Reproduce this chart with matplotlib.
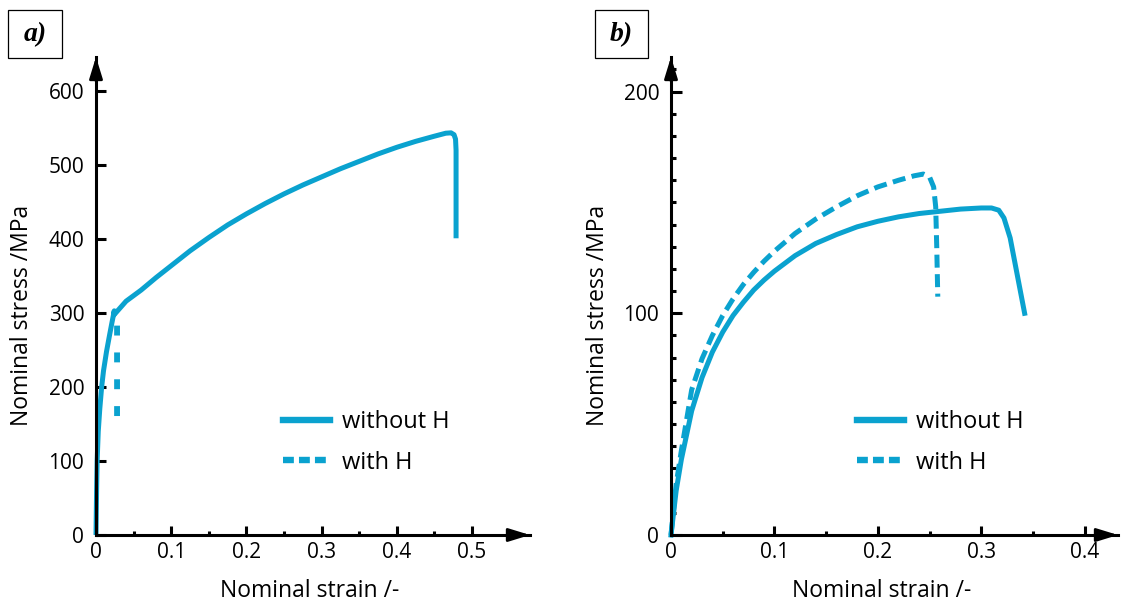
import matplotlib
matplotlib.use("Agg")
import matplotlib.pyplot as plt
from matplotlib.lines import Line2D
from matplotlib.patches import Rectangle
from matplotlib.ticker import MultipleLocator

plt.rcParams['font.family'] = ['Open Sans', 'DejaVu Sans']

# ---------------- data ----------------
# panel a)
a_strain_noH = [0, 0.0008, 0.0015, 0.003, 0.005, 0.0075, 0.01, 0.014, 0.018, 0.021,
                0.0243, 0.0235, 0.04, 0.06, 0.08, 0.10, 0.125, 0.15, 0.175, 0.20,
                0.225, 0.25, 0.275, 0.30, 0.325, 0.35, 0.375, 0.40, 0.425, 0.45,
                0.465, 0.472, 0.476, 0.478, 0.4787, 0.4787]
a_stress_noH = [0, 60, 100, 140, 170, 200, 222, 248, 270, 286,
                303, 297, 316, 331, 348, 364, 384, 402, 419, 434,
                448, 461, 473, 484, 495, 505, 515, 524, 532, 539,
                543, 543.5, 541, 535, 520, 401]
a_strain_H = [0.0245, 0.028, 0.028]
a_stress_H = [303, 290, 158]

# panel b)
b_strain_noH = [0, 0.005, 0.01, 0.02, 0.03, 0.04, 0.05, 0.06, 0.07, 0.08, 0.09, 0.10,
                0.12, 0.14, 0.16, 0.18, 0.20, 0.22, 0.24, 0.26, 0.28, 0.30, 0.31,
                0.317, 0.322, 0.328, 0.342]
b_stress_noH = [0, 20, 34, 56, 71, 82.5, 91.5, 99, 105, 110.5, 115, 119,
                126, 131.5, 135.5, 139, 141.5, 143.5, 145, 146, 147, 147.5, 147.5,
                146.5, 143, 134, 100]
b_strain_H = [0, 0.005, 0.01, 0.02, 0.03, 0.04, 0.05, 0.06, 0.07, 0.08, 0.09, 0.10,
              0.12, 0.14, 0.16, 0.18, 0.20, 0.22, 0.235, 0.244, 0.25, 0.254, 0.256,
              0.257, 0.258]
b_stress_H = [0, 23, 38, 65.5, 79.5, 90, 99, 106.5, 113, 118.5, 123.5, 128,
              136, 142.5, 148, 153, 157, 160, 162, 162.8, 161.5, 157, 148,
              130, 107.5]

a_yticks = [0, 100, 200, 300, 400, 500, 600]
a_xticks = [0, 0.1, 0.2, 0.3, 0.4, 0.5]
b_yticks = [0, 100, 200]
b_xticks = [0, 0.1, 0.2, 0.3, 0.4]
legend_labels = ["without H", "with H"]
xlabel = "Nominal strain /-"
ylabel = "Nominal stress /MPa"

BLUE = '#0AA2CF'
W, H = 1125, 605

fig = plt.figure(figsize=(W / 100, H / 100), dpi=100)


def px_axes(x0, x1, y_top, y_bot):
    return fig.add_axes([x0 / W, 1 - y_bot / H, (x1 - x0) / W, (y_bot - y_top) / H])


def style_axes(ax):
    for s in ['top', 'right']:
        ax.spines[s].set_visible(False)
    for s in ['left', 'bottom']:
        ax.spines[s].set_linewidth(2.2)
        ax.spines[s].set_zorder(5)
    ax.tick_params(which='both', direction='in', width=2.2, labelsize=15, colors='black')
    ax.tick_params(axis='y', which='major', pad=8.5)
    ax.tick_params(axis='x', which='major', pad=5)
    arrow = dict(arrowstyle='-|>,head_length=0.65,head_width=0.2', color='black',
                 lw=2.0, shrinkA=0, shrinkB=0, mutation_scale=20)
    ax.annotate('', xy=(1, 0), xytext=(0.95, 0), xycoords='axes fraction',
                arrowprops=arrow, annotation_clip=False)
    ax.annotate('', xy=(0, 1), xytext=(0, 0.95), xycoords='axes fraction',
                arrowprops=arrow, annotation_clip=False)


# ---------------- panel a ----------------
axa = px_axes(96, 530, 57, 535)
axa.set_xlim(0, 0.577)
axa.set_ylim(0, 646)
style_axes(axa)
axa.set_xticks(a_xticks)
axa.set_xticklabels([f"{v:g}" for v in a_xticks])
axa.xaxis.set_minor_locator(MultipleLocator(0.05))
axa.set_yticks(a_yticks)
axa.tick_params(axis='x', which='major', length=6.5)
axa.tick_params(axis='x', which='minor', length=3)
axa.tick_params(axis='y', which='major', length=7.5)
axa.plot(a_strain_noH, a_stress_noH, color=BLUE, lw=3.6, clip_on=False,
         solid_joinstyle='round', solid_capstyle='butt', zorder=3)
axa.plot(a_strain_H, a_stress_H, color=BLUE, lw=4.2, clip_on=False,
         linestyle=(2, (1.7, 2.9)), zorder=2)

# ---------------- panel b ----------------
axb = px_axes(671, 1118, 57, 535)
axb.set_xlim(0, 0.4323)
axb.set_ylim(0, 215.6)
style_axes(axb)
axb.set_xticks(b_xticks)
axb.set_xticklabels([f"{v:g}" for v in b_xticks])
axb.xaxis.set_minor_locator(MultipleLocator(0.05))
axb.set_yticks(b_yticks)
axb.yaxis.set_minor_locator(MultipleLocator(10))
axb.tick_params(axis='x', which='major', length=6.5)
axb.tick_params(axis='x', which='minor', length=3)
axb.tick_params(axis='y', which='major', length=8)
axb.tick_params(axis='y', which='minor', length=3.6)
axb.plot(b_strain_noH, b_stress_noH, color=BLUE, lw=3.6, clip_on=False,
         solid_joinstyle='round', zorder=3)
axb.plot(b_strain_H, b_stress_H, color=BLUE, lw=3.6, clip_on=False,
         linestyle=(0, (2.6, 1.3)), zorder=3)

# axis labels, legends
for ax, xlx, yly in [(axa, 0.493, -0.1705), (axb, 0.472, -0.163)]:
    ax.set_xlabel(xlabel, fontsize=16.5)
    ax.set_ylabel(ylabel, fontsize=16.5)
    ax.xaxis.label.set_va('center')
    ax.yaxis.label.set_va('center')
    ax.xaxis.set_label_coords(xlx, -0.117)
    ax.yaxis.set_label_coords(yly, 0.46)

handles = [Line2D([], [], color=BLUE, lw=4.6),
           Line2D([], [], color=BLUE, lw=4.6, linestyle=(0, (1.7, 0.8)))]
for ax, x_left in [(axa, 283), (axb, 857)]:
    x0, x1 = (96, 530) if ax is axa else (671, 1118)
    ax.legend(handles, legend_labels, loc='upper left',
              bbox_to_anchor=((x_left - x0) / (x1 - x0), (535 - 410) / 478),
              frameon=False, fontsize=17, borderpad=0, borderaxespad=0,
              handlelength=2.0, handletextpad=0.5, labelspacing=0.7)

# panel tags
for (bx0, bx1), tag in [((8, 62), "a)"), ((595, 648), "b)")]:
    fig.patches.append(Rectangle((bx0 / W, 1 - 58 / H), (bx1 - bx0) / W, 48 / H,
                                 transform=fig.transFigure, fill=False,
                                 edgecolor='black', lw=0.9))
    fig.text((bx0 + bx1) / 2 / W, 1 - 35 / H, tag, ha='center', va='center',
             fontsize=20, fontweight='bold', fontstyle='italic',
             family='Liberation Serif')

fig.savefig('out.png', dpi=100)
